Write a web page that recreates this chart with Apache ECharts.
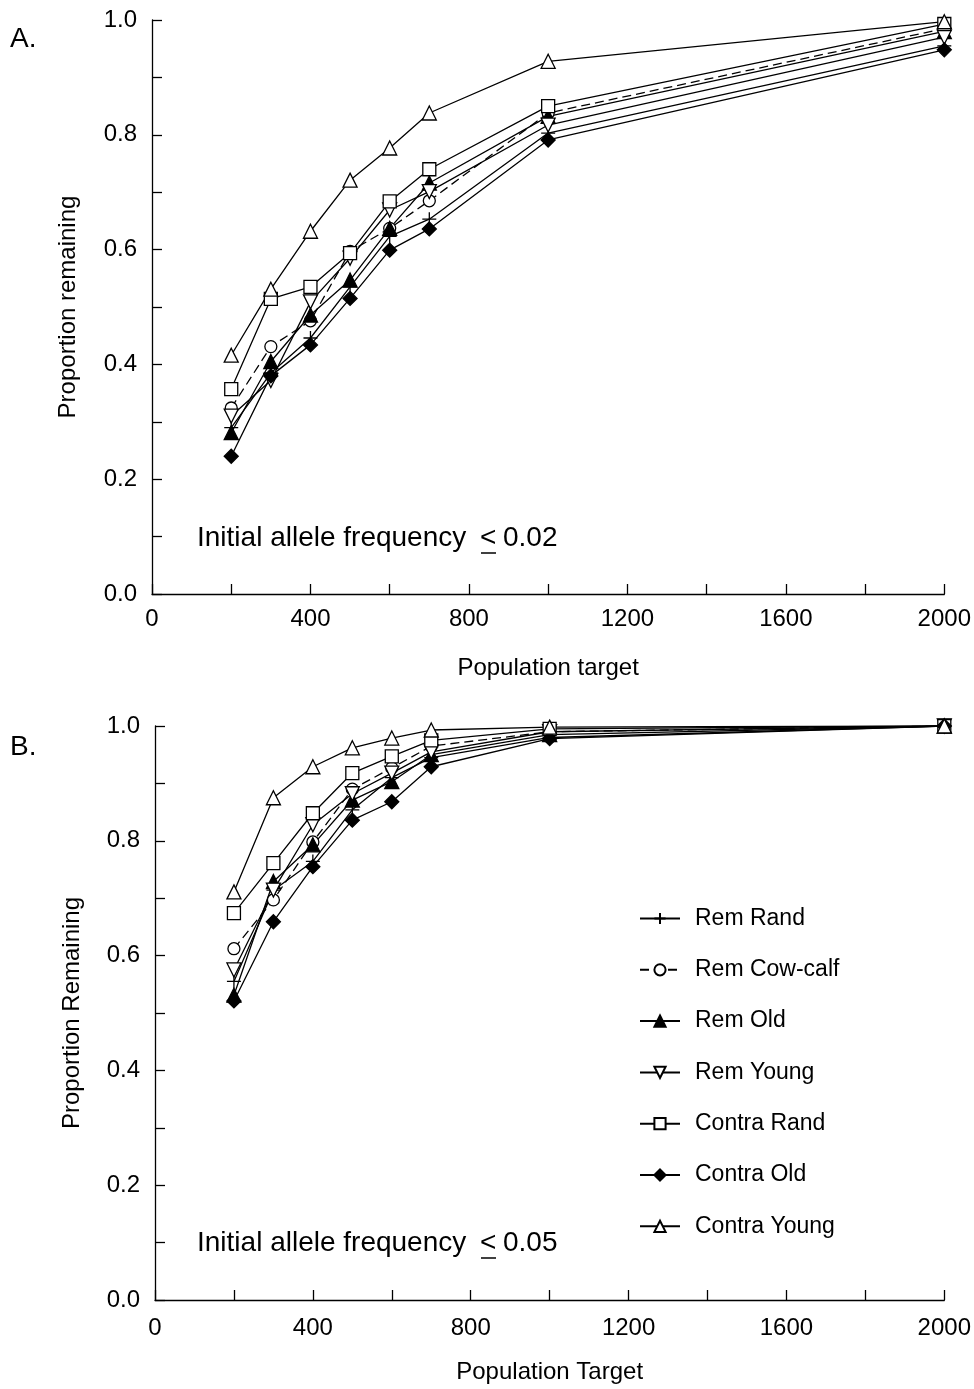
<!DOCTYPE html>
<html><head><meta charset="utf-8">
<script src="https://cdn.jsdelivr.net/npm/echarts@6/dist/echarts.min.js"></script>
<style>html,body{margin:0;padding:0;background:#fff}#c{width:974px;height:1389px}</style>
</head><body><div id="c"></div>
<script>
const targets = [200, 300, 400, 500, 600, 700, 1000, 2000];
const seriesNames = ['Rem Rand','Rem Cow-calf','Rem Old','Rem Young','Contra Rand','Contra Old','Contra Young'];

// Panel A: initial allele frequency <= 0.02
const remRandA     = [0.290, 0.385, 0.446, 0.535, 0.623, 0.653, 0.803, 0.955];
const remCowCalfA  = [0.324, 0.431, 0.476, 0.597, 0.637, 0.685, 0.838, 0.985];
const remOldA      = [0.281, 0.405, 0.486, 0.547, 0.637, 0.716, 0.832, 0.980];
const remYoungA    = [0.310, 0.372, 0.509, 0.585, 0.669, 0.701, 0.817, 0.970];
const contraRandA  = [0.357, 0.514, 0.535, 0.594, 0.684, 0.740, 0.850, 0.993];
const contraOldA   = [0.240, 0.380, 0.434, 0.515, 0.599, 0.636, 0.791, 0.948];
const contraYoungA = [0.416, 0.531, 0.632, 0.721, 0.777, 0.838, 0.928, 0.997];

// Panel B: initial allele frequency <= 0.05
const remRandB     = [0.555, 0.714, 0.764, 0.854, 0.910, 0.945, 0.980, 1.000];
const remCowCalfB  = [0.612, 0.697, 0.798, 0.890, 0.927, 0.965, 0.990, 1.000];
const remOldB      = [0.531, 0.729, 0.793, 0.871, 0.903, 0.950, 0.985, 1.000];
const remYoungB    = [0.575, 0.714, 0.828, 0.882, 0.918, 0.955, 0.990, 1.000];
const contraRandB  = [0.674, 0.761, 0.848, 0.918, 0.947, 0.975, 0.995, 1.000];
const contraOldB   = [0.521, 0.659, 0.755, 0.836, 0.868, 0.929, 0.978, 1.000];
const contraYoungB = [0.711, 0.875, 0.929, 0.962, 0.979, 0.993, 0.998, 1.000];

const xTicks = [0, 400, 800, 1200, 1600, 2000];
const yTicks = [0.0, 0.2, 0.4, 0.6, 0.8, 1.0];

const dataA = [remRandA, remCowCalfA, remOldA, remYoungA, contraRandA, contraOldA, contraYoungA];
const dataB = [remRandB, remCowCalfB, remOldB, remYoungB, contraRandB, contraOldB, contraYoungB];

const FONT = 'Liberation Sans, Arial, sans-serif';
const symbols = [
  {symbol:'path://M5,0L5,10M0,5L10,5', size:14, fill:'#000'},
  {symbol:'circle', size:12, fill:'#fff'},
  {symbol:'triangle', size:14, fill:'#000'},
  {symbol:'path://M0,0L10,0L5,9Z', size:14, fill:'#fff'},
  {symbol:'rect', size:13, fill:'#fff'},
  {symbol:'diamond', size:14, fill:'#000'},
  {symbol:'triangle', size:14, fill:'#fff'}
];

function mkSeries(data, idx){
  return seriesNames.map((name,i)=>({
    name, type:'line', xAxisIndex:idx, yAxisIndex:idx,
    data: targets.map((t,k)=>[t, data[i][k]]),
    symbol: symbols[i].symbol, symbolSize: symbols[i].size,
    showAllSymbol:true, animation:false,
    lineStyle:{color:'#000', width:1.3, type: i===1 ? [9,5] : 'solid'},
    itemStyle:{color:symbols[i].fill, borderColor:'#000', borderWidth:1.3},
    emphasis:{disabled:true}
  }));
}

function xAxis(idx, name, gap, margin){
  return {
    type:'value', gridIndex:idx, min:0, max:2000, interval:400,
    name, nameLocation:'middle', nameGap:gap,
    nameTextStyle:{fontFamily:FONT, fontSize:24, color:'#000'},
    axisLine:{show:true, lineStyle:{color:'#000', width:1.3}},
    axisTick:{show:true, inside:true, length:10, lineStyle:{color:'#000', width:1.3}},
    minorTick:{show:true, splitNumber:2, length:10, lineStyle:{color:'#000', width:1.3}},
    axisLabel:{fontFamily:FONT, fontSize:24, color:'#000', margin:margin,
      formatter:v=> xTicks.includes(v) ? String(v) : ''},
    splitLine:{show:false}, minorSplitLine:{show:false}
  };
}
function yAxis(idx, name, gap){
  return {
    type:'value', gridIndex:idx, min:0, max:1, interval:0.2,
    name, nameLocation:'middle', nameGap:gap, nameRotate:90,
    nameTextStyle:{fontFamily:FONT, fontSize:24, color:'#000'},
    axisLine:{show:true, lineStyle:{color:'#000', width:1.3}},
    axisTick:{show:true, inside:true, length:10, lineStyle:{color:'#000', width:1.3}},
    minorTick:{show:true, splitNumber:2, length:10, lineStyle:{color:'#000', width:1.3}},
    axisLabel:{fontFamily:FONT, fontSize:24, color:'#000', margin:15,
      formatter:v=> yTicks.some(t=>Math.abs(t-v)<1e-9) ? v.toFixed(1) : ''},
    splitLine:{show:false}, minorSplitLine:{show:false}
  };
}

function annot(x, y, val){
  return [
    {type:'text', left:x, top:y, style:{text:'Initial allele frequency', fontFamily:FONT, fontSize:28, fill:'#000'}},
    {type:'text', left:x+283, top:y, style:{text:'<', fontFamily:FONT, fontSize:28, fill:'#000'}},
    {type:'line', shape:{x1:x+284, y1:y+29, x2:x+299, y2:y+29}, style:{stroke:'#000', lineWidth:1.5}},
    {type:'text', left:x+306, top:y, style:{text:val, fontFamily:FONT, fontSize:28, fill:'#000'}}
  ];
}

const chart = echarts.init(document.getElementById('c'), null, {renderer:'canvas'});
chart.setOption({
  backgroundColor:'#fff',
  animation:false,
  grid:[
    {left:152, top:20, width:793, height:574},
    {left:155, top:726, width:793, height:574}
  ],
  xAxis:[xAxis(0,'Population target',62,13), xAxis(1,'Population Target',60,16)],
  yAxis:[yAxis(0,'Proportion remaining',72), yAxis(1,'Proportion Remaining',71)],
  legend:{
    show:true, orient:'vertical', left:634, top:902, itemWidth:40, itemHeight:14,
    itemGap:28.3, data:seriesNames,
    textStyle:{fontFamily:FONT, fontSize:23, color:'#000', padding:[0,0,0,10]},
    selectedMode:false
  },
  series:[...mkSeries(dataA,0), ...mkSeries(dataB,1)],
  graphic:[
    {type:'text', left:10, top:25, style:{text:'A.', fontFamily:FONT, fontSize:28, fill:'#000'}},
    {type:'text', left:10, top:733, style:{text:'B.', fontFamily:FONT, fontSize:28, fill:'#000'}},
    ...annot(197, 524, '0.02'),
    ...annot(197, 1229, '0.05')
  ]
});
</script></body></html>
